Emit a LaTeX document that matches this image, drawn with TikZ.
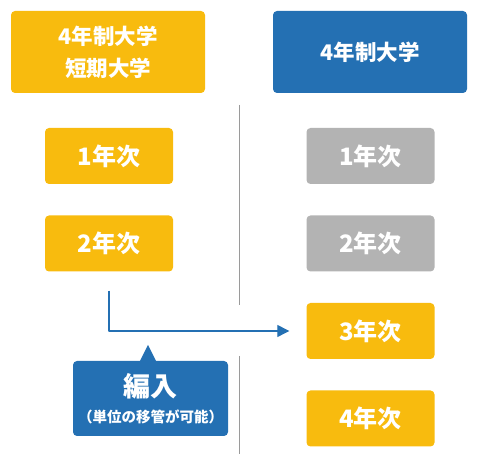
\documentclass[tikz,border=0pt]{standalone}
\usepackage{fontspec}
\newfontfamily\cjk{Noto Sans CJK JP}
\usetikzlibrary{arrows.meta}
\definecolor{nenyellow}{HTML}{F8BB0E}
\definecolor{nenblue}{HTML}{2470B3}
\definecolor{nengray}{HTML}{B3B3B3}
\definecolor{sepgray}{HTML}{9A9A9A}
\begin{document}
\begin{tikzpicture}[x=1pt, y=1pt, line join=round,
    yearbox/.style={rounded corners=4pt, minimum width=128pt, minimum height=56pt, inner sep=0pt,
      text=white, font={\cjk\bfseries\fontsize{24}{24}\selectfont}},
    headbox/.style={yearbox, minimum width=194pt, minimum height=82pt, align=center,
      font={\cjk\bfseries\fontsize{21.5}{32}\selectfont}},
    flow/.style={nenblue, line width=1.3pt, -{Triangle[length=12pt, width=12pt]}}]
				\useasboundingbox (0,0) rectangle (477,454);
				% separators
				\draw[sepgray, line width=1pt] (239.5,349) -- (239.5,149);
				\draw[sepgray, line width=1pt] (239.5,98) -- (239.5,0);
				% left column
				\node[headbox, fill=nenyellow] (tl) at (108,402) {4年制大学\\短期大学};
				\node[yearbox, fill=nenyellow] (l1) at (109,298) {1年次};
				\node[yearbox, fill=nenyellow] (l2) at (109,210.5) {2年次};
				% right column
				\node[headbox, fill=nenblue] (tr) at (370,402) {4年制大学};
				\node[yearbox, fill=nengray] (r1) at (370.5,298) {1年次};
				\node[yearbox, fill=nengray] (r2) at (370.5,210.5) {2年次};
				\node[yearbox, fill=nenyellow] (r3) at (370.5,123) {3年次};
				\node[yearbox, fill=nenyellow] (r4) at (370.5,35.5) {4年次};
				% transfer
				\draw[flow, shorten <=19pt, shorten >=17pt] (l2.south) |- (r3.west);
				\node[yearbox, fill=nenblue, minimum width=155pt, minimum height=75pt, align=center,
				  font={\cjk\bfseries}] (hen) at (150.5,55.5)
				  {{\fontsize{27}{27}\selectfont 編入}\\[10pt]{\fontsize{14.5}{15}\selectfont （単位の移管が可能）}};
				\fill[nenblue] ([xshift=-11pt, yshift=-1pt]hen.north) -- ([xshift=-2.5pt, yshift=16pt]hen.north)
				  -- ([xshift=6pt, yshift=-1pt]hen.north) -- cycle;
			\end{tikzpicture}
\end{document}
